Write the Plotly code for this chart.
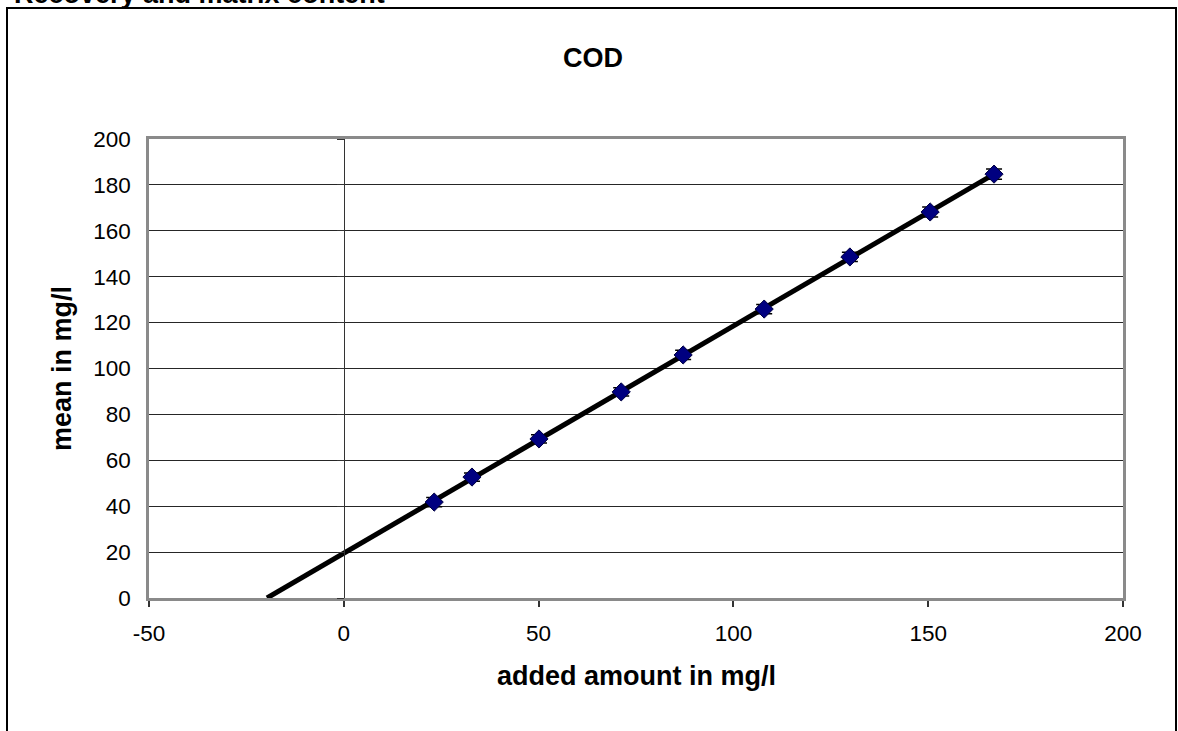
import numpy as np
import plotly.graph_objects as go

# ---- data ----
added_amount = [23.2, 32.9, 50.1, 71.2, 87.1, 107.9, 129.9, 150.5, 166.9]
mean_found = [41.8, 52.7, 69.3, 89.8, 105.9, 125.9, 148.6, 168.2, 184.7]
std_dev = [2.0, 1.8, 1.8, 1.8, 2.0, 2.0, 2.0, 2.2, 2.2]
x_ticks = [-50, 0, 50, 100, 150, 200]
x_tick_labels = ["-50", "0", "50", "100", "150", "200"]
y_ticks = [0, 20, 40, 60, 80, 100, 120, 140, 160, 180, 200]
y_tick_labels = ["0", "20", "40", "60", "80", "100", "120", "140", "160", "180", "200"]
x_range = [-50, 200]
y_range = [0, 200]

heading = "Recovery and matrix content"
chart_title = "COD"
x_title = "added amount in mg/l"
y_title = "mean in mg/l"

FONT = "Liberation Sans, Arial, sans-serif"

# linear regression of the data, extended back to the x-intercept
slope, intercept = np.polyfit(added_amount, mean_found, 1)
x_int = -intercept / slope
reg_x = [x_int, max(added_amount)]
reg_y = [slope * v + intercept for v in reg_x]

fig = go.Figure()
fig.add_trace(go.Scatter(
    x=reg_x, y=reg_y, mode="lines",
    line=dict(color="black", width=5), showlegend=False, hoverinfo="skip"))
fig.add_trace(go.Scatter(
    x=added_amount, y=mean_found, mode="markers", yaxis="y2",
    marker=dict(symbol="diamond", size=14, color="#000080",
                line=dict(color="#000040", width=1)),
    error_y=dict(type="data", array=std_dev, color="black", thickness=1.5, width=8),
    showlegend=False))

W, H = 1178, 731
# plot area in page pixels (body margin is removed in the page)
L, R, T, B = 149, 1123, 139, 598
pw, ph = R - L, B - T


def px(page_x):
    return (page_x - L) / pw


def py(page_y):
    return (B - page_y) / ph


zero_pos = (0 - x_range[0]) / (x_range[1] - x_range[0])

fig.update_layout(
    width=W, height=H,
    margin=dict(l=L, r=W - R, t=T, b=H - B, pad=0),
    paper_bgcolor="white", plot_bgcolor="white",
    font=dict(family=FONT, color="black", size=22.5),
    xaxis=dict(range=x_range, tickvals=x_ticks, ticktext=x_tick_labels,
               ticks="outside", ticklen=6,
               tickcolor="#333", tickwidth=1.5, showgrid=False, zeroline=False,
               showline=True, mirror=True, linecolor="#8a8a8a", linewidth=2.5,
               tickfont=dict(size=22.5, family=FONT), ticklabelstandoff=7),
    yaxis=dict(range=y_range, tickvals=y_ticks, ticktext=y_tick_labels,
               ticks="", showgrid=True,
               gridcolor="#262626", gridwidth=1, zeroline=False,
               showline=True, mirror=True, linecolor="#8a8a8a", linewidth=2.5,
               tickfont=dict(size=22.5, family=FONT), ticklabelstandoff=11),
    yaxis2=dict(overlaying="y", matches="y", anchor="free", position=zero_pos,
                side="left", tickvals=y_ticks, ticks="outside", ticklen=7,
                tickcolor="#333", tickwidth=1.2, showticklabels=False,
                showgrid=False, zeroline=False, showline=True,
                linecolor="#333", linewidth=1.2),
    shapes=[dict(type="rect", xref="paper", yref="paper",
                 x0=px(7), x1=px(1176), y0=py(770), y1=py(8),
                 line=dict(color="black", width=2), fillcolor="rgba(0,0,0,0)",
                 layer="below")],
    annotations=[
        dict(text="<b>%s</b>" % heading, xref="paper", yref="paper",
             x=px(12), y=py(-6.5), xanchor="left", yanchor="middle",
             showarrow=False, font=dict(size=27, family=FONT)),
        dict(text="<b>%s</b>" % chart_title, xref="paper", yref="paper",
             x=px(592.8), y=py(58), xanchor="center", yanchor="middle",
             showarrow=False, font=dict(size=27, family=FONT)),
        dict(text="<b>%s</b>" % x_title, xref="paper", yref="paper",
             x=px(636), y=py(675.5), xanchor="center", yanchor="middle",
             showarrow=False, font=dict(size=27, family=FONT)),
        dict(text="<b>%s</b>" % y_title, xref="paper", yref="paper",
             x=px(61.5), y=py(368.5), xanchor="center", yanchor="middle",
             textangle=-90, showarrow=False, font=dict(size=27, family=FONT)),
    ],
)

fig.write_html("out.html", config={"displayModeBar": False},
               post_script="document.body.style.margin='0px';")
